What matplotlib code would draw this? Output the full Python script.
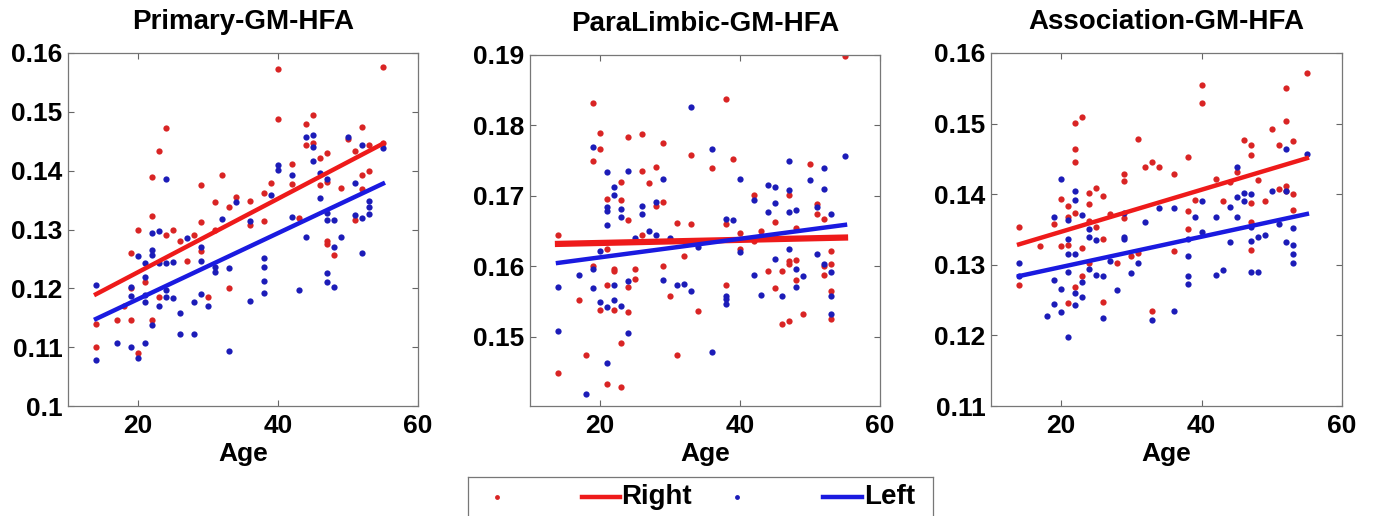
import numpy as np
import matplotlib
matplotlib.use("Agg")
import matplotlib.pyplot as plt

plt.rcParams['font.family'] = ['Liberation Sans', 'DejaVu Sans']
plt.rcParams['font.weight'] = 'bold'

# age, value pairs
primary_right = np.array([
    [14, .1139], [14, .110], [17, .1147], [18, .1170], [19, .126], [19, .1147], [19, .120],
    [20, .130], [20, .109], [21, .121], [22, .139], [22, .1323], [22, .1146], [23, .1433],
    [23, .1186], [24, .1472], [24, .129], [25, .130], [26, .128], [27, .1247], [28, .129],
    [29, .1375], [29, .1312], [29, .1263], [30, .1186], [31, .1346], [31, .130], [32, .1393],
    [33, .1338], [33, .120], [34, .1355], [36, .1348], [36, .1308], [38, .1314], [38, .1362],
    [39, .1379], [40, .1573], [40, .1488], [42, .1411], [42, .1377], [43, .132], [44, .1479],
    [44, .1444], [45, .1495], [45, .1447], [46, .1421], [46, .1376], [47, .143], [47, .138],
    [47, .128], [47, .1275], [48, .1257], [49, .137], [50, .1453], [51, .1433], [51, .1316],
    [52, .1474], [52, .1393], [52, .1368], [53, .1444], [53, .140], [55, .1576], [55, .1447]])
primary_left = np.array([
    [14, .1206], [14, .1078], [17, .1107], [19, .1203], [19, .1187], [19, .110], [20, .1255],
    [20, .1081], [21, .1243], [21, .122], [21, .1189], [21, .1176], [21, .1107], [22, .1294],
    [22, .1265], [22, .1257], [22, .1138], [23, .1297], [23, .1243], [23, .117], [24, .1386],
    [24, .1243], [24, .1197], [24, .1186], [25, .1245], [25, .1183], [26, .1158], [26, .1122],
    [27, .1285], [28, .1177], [28, .1123], [29, .1271], [29, .1247], [29, .119], [30, .117],
    [31, .1237], [31, .1228], [32, .1318], [33, .1234], [33, .1094], [34, .1346], [36, .1314],
    [36, .1179], [38, .1252], [38, .1237], [38, .1213], [38, .1192], [39, .1358], [40, .141],
    [40, .1401], [42, .1392], [42, .1321], [43, .1197], [44, .1457], [44, .1288], [45, .1461],
    [45, .1441], [45, .1416], [46, .1396], [46, .1353], [47, .1386], [47, .1328], [47, .1316],
    [47, .1226], [47, .1211], [48, .1316], [48, .1271], [48, .1203], [49, .1287], [50, .1458],
    [51, .1379], [51, .1325], [52, .1444], [52, .1319], [52, .126], [53, .1348], [53, .1339],
    [53, .1326], [55, .1438]])

paralimbic_right = np.array([
    [14, .1644], [14, .1449], [17, .1552], [18, .1475], [19, .1832], [19, .175], [19, .160],
    [20, .179], [20, .1767], [20, .1538], [21, .1695], [21, .1625], [21, .1573], [21, .1433],
    [22, .1597], [22, .1594], [22, .1538], [23, .172], [23, .1694], [23, .1492], [23, .1429],
    [24, .1666], [24, .1784], [24, .1571], [24, .1536], [25, .1597], [25, .1582], [26, .1788],
    [26, .1736], [26, .1645], [27, .1718], [28, .1741], [28, .1686], [29, .1775], [29, .1691],
    [29, .160], [30, .1558], [31, .1661], [31, .1474], [32, .1615], [33, .1758], [33, .166],
    [34, .1537], [36, .1739], [38, .1837], [38, .166], [38, .1574], [39, .1753], [40, .1647],
    [40, .1625], [42, .1702], [42, .1636], [43, .165], [44, .1593], [45, .1663], [45, .1569],
    [46, .1594], [46, .1519], [47, .1702], [47, .1608], [47, .1603], [47, .1523], [48, .1654],
    [48, .1609], [48, .1581], [49, .1532], [50, .1746], [51, .1689], [51, .1675], [52, .1668],
    [52, .160], [52, .1588], [53, .1622], [53, .1603], [53, .1565], [53, .1525], [55, .1899]])
paralimbic_left = np.array([
    [14, .1571], [14, .1509], [17, .1588], [18, .1419], [19, .177], [19, .1596], [19, .157],
    [20, .1622], [20, .1549], [21, .1734], [21, .1684], [21, .1679], [21, .1659], [21, .1542],
    [21, .1463], [22, .1713], [22, .1701], [22, .1573], [22, .1552], [23, .1682], [23, .167],
    [23, .1544], [24, .1735], [24, .1579], [24, .1506], [25, .1641], [26, .1686], [26, .1675],
    [27, .1651], [28, .1691], [28, .1645], [29, .1724], [29, .1581], [30, .164], [31, .1573],
    [32, .1575], [33, .1826], [33, .1565], [34, .1627], [36, .1767], [36, .1479], [38, .1668],
    [38, .1558], [38, .1554], [38, .1547], [39, .1666], [40, .1724], [40, .162], [42, .1694],
    [42, .1588], [43, .156], [44, .1716], [44, .1677], [45, .1713], [45, .169], [45, .1611],
    [46, .1558], [47, .1749], [47, .1709], [47, .1677], [47, .1625], [48, .168], [48, .1596],
    [48, .1571], [49, .1587], [50, .1723], [51, .1684], [51, .1618], [52, .174], [52, .171],
    [52, .1603], [53, .1675], [53, .1592], [53, .1558], [53, .1533], [55, .1756]])

association_right = np.array([
    [14, .1354], [14, .1272], [17, .1326], [19, .1358], [20, .1393], [20, .1327], [21, .1383],
    [21, .1368], [21, .1328], [21, .1246], [22, .1501], [22, .1464], [22, .1445], [22, .1373],
    [22, .1269], [23, .151], [23, .1324], [23, .1284], [24, .1402], [24, .1386], [24, .1362],
    [24, .1302], [25, .1409], [25, .1354], [26, .1398], [26, .1336], [26, .1247], [27, .1372],
    [28, .1302], [29, .1428], [29, .1418], [29, .1366], [30, .1312], [31, .1478], [31, .1317],
    [32, .1438], [33, .1445], [33, .1235], [34, .1438], [36, .1428], [36, .1319], [38, .1453],
    [38, .1376], [38, .135], [39, .1392], [40, .1555], [40, .1529], [42, .1421], [43, .139],
    [44, .1417], [45, .1432], [46, .1477], [47, .147], [47, .1455], [47, .1388], [47, .1361],
    [47, .1321], [48, .142], [49, .139], [50, .1493], [51, .1469], [51, .1407], [52, .1551],
    [52, .1503], [52, .1411], [52, .1404], [53, .1475], [53, .14], [53, .1378], [55, .1572]])
association_left = np.array([
    [14, .1302], [14, .1284], [18, .1228], [19, .1368], [19, .1278], [19, .1245], [20, .1422],
    [20, .1266], [20, .1233], [21, .1364], [21, .1336], [21, .1315], [21, .129], [21, .1198],
    [22, .1405], [22, .1392], [22, .1316], [22, .126], [22, .1243], [23, .1371], [23, .1275],
    [23, .1255], [24, .135], [24, .1339], [24, .1294], [25, .1335], [25, .1286], [26, .1284],
    [26, .1225], [27, .1305], [28, .1265], [29, .1373], [29, .134], [29, .1336], [30, .1288],
    [31, .1302], [32, .136], [33, .1222], [34, .138], [36, .138], [36, .1235], [38, .1336],
    [38, .1313], [38, .1284], [38, .1273], [39, .1368], [40, .139], [40, .1347], [42, .1368],
    [42, .1286], [43, .1292], [44, .1382], [44, .1333], [45, .1439], [45, .1396], [45, .1367],
    [46, .1401], [46, .139], [47, .14], [47, .1354], [47, .1334], [47, .129], [48, .1339],
    [48, .129], [49, .1342], [50, .1405], [51, .1358], [52, .1464], [52, .1404], [52, .1332],
    [53, .1352], [53, .1328], [53, .1316], [53, .1303], [55, .1457]])

# fitted lines, value at first and last age
fit_ages = [14, 55]
primary_fit_right = [0.1190, 0.1446]
primary_fit_left = [0.1148, 0.1378]
paralimbic_fit_right = [0.1632, 0.1641]
paralimbic_fit_left = [0.1605, 0.1659]
association_fit_right = [0.1329, 0.1451]
association_fit_left = [0.1284, 0.1372]

titles = ['Primary-GM-HFA', 'ParaLimbic-GM-HFA', 'Association-GM-HFA']
x_ticks = [20, 40, 60]
primary_yticks = [0.10, 0.11, 0.12, 0.13, 0.14, 0.15, 0.16]
primary_ylabels = ['0.1', '0.11', '0.12', '0.13', '0.14', '0.15', '0.16']
paralimbic_yticks = [0.15, 0.16, 0.17, 0.18, 0.19]
paralimbic_ylabels = ['0.15', '0.16', '0.17', '0.18', '0.19']
association_yticks = [0.11, 0.12, 0.13, 0.14, 0.15, 0.16]
association_ylabels = ['0.11', '0.12', '0.13', '0.14', '0.15', '0.16']

panels = [
    (primary_right, primary_left, primary_fit_right, primary_fit_left,
     primary_yticks, primary_ylabels, (0.10, 0.16)),
    (paralimbic_right, paralimbic_left, paralimbic_fit_right, paralimbic_fit_left,
     paralimbic_yticks, paralimbic_ylabels, (0.1402, 0.19)),
    (association_right, association_left, association_fit_right, association_fit_left,
     association_yticks, association_ylabels, (0.11, 0.16)),
]

RED_DOT, BLUE_DOT = '#d92424', '#1c1cb8'
RED_LINE, BLUE_LINE = '#ee1a1a', '#1a1ae0'
W, H = 1373, 516
boxes = [(68, 418, 53), (530, 880, 55), (991, 1342, 53)]
bottom = 406

fig = plt.figure(figsize=(W / 100, H / 100), dpi=100)

for i, (right, left, fr, fl, yt, ylab, ylim) in enumerate(panels):
    x0, x1, top = boxes[i]
    ax = fig.add_axes([x0 / W, 1 - bottom / H, (x1 - x0) / W, (bottom - top) / H])
    ax.plot(right[:, 0], right[:, 1], 'o', ms=4.5, color=RED_DOT, mec='none')
    ax.plot(left[:, 0], left[:, 1], 'o', ms=4.5, color=BLUE_DOT, mec='none')
    ax.plot(fit_ages, fr, '-', lw=4.5 if i == 1 else 3.2, color=RED_LINE)
    ax.plot(fit_ages, fl, '-', lw=3.2, color=BLUE_LINE)
    ax.set_xlim(10, 60)
    ax.set_ylim(*ylim)
    ax.set_xticks(x_ticks)
    ax.set_yticks(yt)
    ax.set_yticklabels(ylab)
    ax.tick_params(direction='in', top=True, right=True, length=4, width=0.8,
                   color='#666666', labelsize=19)
    ax.tick_params(axis='x', pad=6)
    ax.tick_params(axis='y', pad=4)
    for s in ax.spines.values():
        s.set_color('#777777')
        s.set_linewidth(0.9)
    ax.set_xlabel('Age', fontsize=19, fontweight='bold', labelpad=3)
    ax.set_title(titles[i], fontsize=20, fontweight='bold', pad=17)

# legend box along the bottom
lg = fig.add_axes([468 / W, 1 - 537 / H, 465 / W, 60 / H])
lg.set_xlim(0, 1)
lg.set_ylim(0, 1)
lg.set_xticks([])
lg.set_yticks([])
for s in lg.spines.values():
    s.set_color('#777777')
    s.set_linewidth(0.9)
lg.plot([0.062], [0.667], 'o', ms=3.5, color=RED_DOT, mec='none')
lg.plot([0.245, 0.327], [0.667, 0.667], '-', lw=3.2, color=RED_LINE)
lg.text(0.329, 0.667, 'Right', fontsize=20, fontweight='bold', va='center', ha='left')
lg.plot([0.578], [0.667], 'o', ms=3.5, color=BLUE_DOT, mec='none')
lg.plot([0.763, 0.847], [0.667, 0.667], '-', lw=3.2, color=BLUE_LINE)
lg.text(0.852, 0.667, 'Left', fontsize=20, fontweight='bold', va='center', ha='left')

fig.savefig('out.png', dpi=100)
